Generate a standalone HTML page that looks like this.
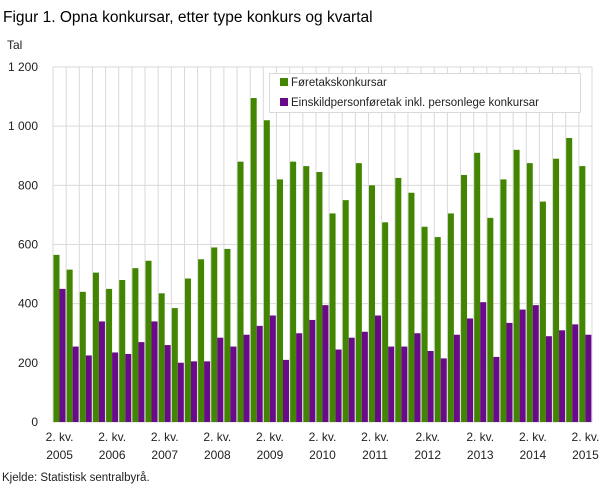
<!DOCTYPE html>
<html><head><meta charset="utf-8"><style>
body{margin:0;background:#fff;font-family:"Liberation Sans","DejaVu Sans",sans-serif;}
</style></head><body>
<svg id="s" width="609" height="488" xmlns="http://www.w3.org/2000/svg" font-family="Liberation Sans, DejaVu Sans, sans-serif">
<text x="3" y="22" font-size="15.5" fill="#000">Figur 1. Opna konkursar, etter type konkurs og kvartal</text>
<text x="7" y="49" font-size="12" fill="#222">Tal</text>
<g id="g"></g>
<text x="2" y="481" font-size="11.5" fill="#222">Kjelde: Statistisk sentralbyrå.</text>
</svg>
<script>
var G=[565,515,440,505,450,480,520,545,435,385,485,550,590,585,880,1095,1020,820,880,865,845,705,750,875,800,675,825,775,660,625,705,835,910,690,820,920,875,745,890,960,865];
var P=[450,255,225,340,235,230,270,340,260,200,205,205,285,255,295,325,360,210,300,345,395,245,285,305,360,255,255,300,240,215,295,350,405,220,335,380,395,290,310,330,295];
var L=53,R=592,T=67,B=422,n=41,w=(R-L)/n,k=(B-T)/1200,h='';
for(var i=0;i<=n;i++){var x=L+i*w;h+='<line x1="'+x+'" y1="'+T+'" x2="'+x+'" y2="'+B+'" stroke="#d9d9d9" stroke-width="1"/>';}
for(var v=0;v<=1200;v+=200){var y=B-v*k;h+='<line x1="'+L+'" y1="'+y+'" x2="'+R+'" y2="'+y+'" stroke="#d9d9d9" stroke-width="1"/>';
h+='<text x="38" y="'+(y+4)+'" font-size="12" text-anchor="end" fill="#222">'+(v>=1000?'1 '+String(v-1000).padStart(3,'0'):v)+'</text>';}
for(var i=0;i<n;i++){var x=L+i*w;
h+='<rect x="'+(x+0.5)+'" y="'+(B-G[i]*k)+'" width="6" height="'+G[i]*k+'" fill="#428501"/>';
h+='<rect x="'+(x+6.5)+'" y="'+(B-P[i]*k)+'" width="6" height="'+P[i]*k+'" fill="#680a8a"/>';}
var labs=['2. kv.','2. kv.','2. kv.','2. kv.','2. kv.','2. kv.','2. kv.','2.kv.','2. kv.','2. kv.','2. kv.'];
for(var j=0;j<=10;j++){var cx=L+(j*4+0.5)*w;
h+='<text x="'+cx+'" y="441" font-size="12" text-anchor="middle" fill="#222">'+labs[j]+'</text>';
h+='<text x="'+cx+'" y="459" font-size="12" text-anchor="middle" fill="#222">'+(2005+j)+'</text>';}
h+='<rect x="269.5" y="73.5" width="311" height="39" fill="#fff" stroke="#d9d9d9"/>';
h+='<rect x="280" y="78" width="8" height="8" fill="#428501"/><text x="291" y="86" font-size="11.5" fill="#222">Føretakskonkursar</text>';
h+='<rect x="280" y="98" width="8" height="8" fill="#680a8a"/><text x="291" y="106" font-size="11.5" fill="#222">Einskildpersonføretak inkl. personlege konkursar</text>';
document.getElementById('g').innerHTML=h;
</script>
</body></html>
